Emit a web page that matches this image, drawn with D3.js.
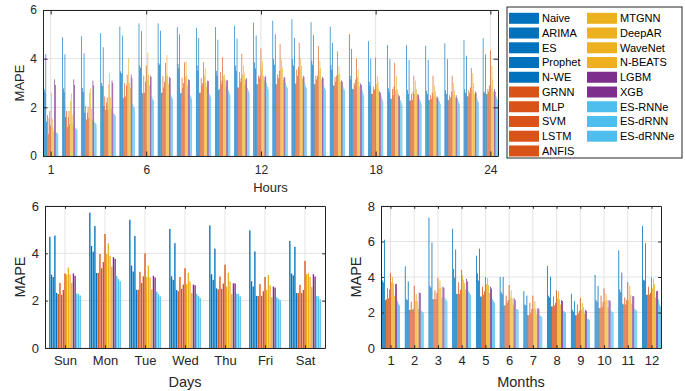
<!DOCTYPE html>
<html>
<head>
<meta charset="utf-8">
<script src="https://cdn.jsdelivr.net/npm/d3@7/dist/d3.min.js"></script>
<style>
  body { margin: 0; background: #fff; }
  svg { display: block; font-family: "Liberation Sans", Arial, sans-serif; }
</style>
</head>
<body>
<svg id="chart" width="685" height="391"></svg>
<script>
// series names in legend order
const seriesNames = ['Naive', 'ARIMA', 'ES', 'Prophet', 'N-WE',
  'GRNN', 'MLP', 'SVM', 'LSTM', 'ANFIS',
  'MTGNN', 'DeepAR', 'WaveNet', 'N-BEATS',
  'LGBM', 'XGB',
  'ES-RNNe', 'ES-dRNN', 'ES-dRNNe'];
const seriesGroup = [0, 0, 0, 0, 0, 1, 1, 1, 1, 1, 2, 2, 2, 2, 3, 3, 4, 4, 4];
const groupColors = ['#0072BD', '#D95319', '#EDB120', '#7E2F8E', '#4DBEEE'];

// hours 1..24, one row per hour, values in series order
const hourTicks = [1, 6, 12, 18, 24];
const hourRows = [
  [4.86, 2.74, 2.60, 4.19, 1.41, 1.68, 0.90, 1.55, 1.85, 1.25, 2.60, 1.55, 1.15, 1.00, 3.15, 2.92, 0.95, 0.98, 0.90],
  [4.88, 2.78, 2.62, 4.18, 1.60, 1.85, 1.20, 1.60, 1.85, 1.30, 2.25, 2.58, 1.70, 1.30, 3.15, 2.92, 1.15, 1.12, 1.08],
  [4.92, 2.80, 2.63, 4.22, 1.78, 2.05, 1.50, 1.78, 2.02, 1.55, 2.60, 2.78, 1.95, 1.50, 3.10, 2.90, 1.40, 1.35, 1.30],
  [5.05, 3.00, 2.88, 4.47, 2.05, 2.45, 1.90, 2.20, 2.40, 1.90, 2.95, 3.40, 2.40, 1.95, 3.10, 3.00, 1.75, 1.72, 1.65],
  [5.32, 3.48, 3.40, 4.95, 2.35, 2.42, 3.00, 2.45, 2.90, 3.35, 2.95, 4.02, 3.00, 2.80, 3.35, 3.20, 2.15, 2.05, 1.98],
  [5.45, 3.72, 3.62, 5.13, 2.58, 2.58, 3.30, 2.60, 3.05, 3.72, 3.15, 4.25, 3.35, 2.90, 3.30, 3.25, 2.45, 2.35, 2.28],
  [5.45, 3.82, 3.75, 5.15, 2.60, 2.60, 3.28, 2.82, 3.05, 3.82, 3.35, 4.15, 3.30, 2.95, 3.25, 3.20, 2.50, 2.42, 2.35],
  [5.30, 3.78, 3.60, 5.00, 2.58, 2.58, 3.22, 2.80, 3.00, 3.85, 3.25, 3.90, 3.30, 2.90, 3.15, 3.12, 2.50, 2.45, 2.35],
  [5.27, 3.72, 3.50, 4.85, 2.60, 2.60, 3.20, 2.90, 3.00, 3.85, 3.30, 3.60, 3.00, 2.85, 3.10, 3.08, 2.55, 2.48, 2.40],
  [5.30, 3.50, 3.30, 4.78, 2.72, 2.75, 3.45, 2.95, 3.10, 4.05, 3.30, 3.35, 3.15, 2.85, 3.10, 3.12, 2.70, 2.60, 2.50],
  [5.35, 3.72, 3.50, 4.82, 2.82, 2.82, 3.45, 3.05, 3.20, 4.20, 3.35, 3.72, 3.40, 2.95, 3.15, 3.20, 2.80, 2.70, 2.62],
  [5.48, 3.85, 3.60, 4.95, 2.95, 2.95, 3.30, 3.20, 3.30, 4.42, 3.60, 3.88, 3.30, 3.10, 3.25, 3.28, 3.00, 2.85, 2.75],
  [5.56, 3.98, 3.75, 5.00, 2.95, 2.95, 3.35, 3.20, 3.50, 4.60, 3.55, 3.95, 3.65, 3.15, 3.25, 3.22, 3.00, 2.88, 2.80],
  [5.62, 3.98, 3.72, 4.85, 2.95, 3.00, 3.55, 3.30, 3.65, 4.65, 3.55, 4.00, 3.70, 3.20, 3.30, 3.25, 3.00, 2.88, 2.80],
  [5.50, 3.92, 3.75, 4.97, 2.95, 2.95, 3.30, 3.15, 3.30, 4.52, 3.50, 3.90, 3.60, 3.15, 3.25, 3.20, 2.90, 2.80, 2.72],
  [5.32, 3.75, 3.55, 4.65, 2.90, 2.90, 3.25, 3.05, 3.30, 4.30, 3.35, 3.70, 3.35, 3.05, 3.10, 3.05, 2.85, 2.75, 2.70],
  [5.00, 3.30, 3.15, 4.40, 2.75, 2.75, 3.00, 2.90, 3.15, 4.00, 3.25, 3.55, 3.05, 2.85, 2.98, 2.92, 2.70, 2.60, 2.50],
  [4.72, 3.05, 2.88, 4.00, 2.55, 2.55, 2.85, 2.72, 2.75, 4.05, 2.95, 3.30, 3.05, 2.75, 2.65, 2.60, 2.45, 2.35, 2.25],
  [4.56, 2.78, 2.62, 3.98, 2.35, 2.35, 2.75, 2.50, 2.85, 3.83, 2.70, 3.30, 2.75, 2.60, 2.50, 2.45, 2.30, 2.20, 2.10],
  [4.56, 2.72, 2.55, 3.95, 2.28, 2.28, 2.55, 2.30, 2.65, 3.30, 2.55, 3.10, 2.75, 2.50, 2.55, 2.50, 2.35, 2.25, 2.15],
  [4.53, 2.68, 2.55, 3.95, 2.30, 2.30, 2.50, 2.35, 2.60, 3.30, 2.45, 2.90, 2.65, 2.40, 2.45, 2.40, 2.35, 2.25, 2.15],
  [4.63, 2.70, 2.55, 3.98, 2.30, 2.30, 2.50, 2.40, 2.65, 3.30, 2.50, 3.00, 2.70, 2.40, 2.50, 2.40, 2.35, 2.25, 2.15],
  [4.77, 2.75, 2.60, 4.12, 2.45, 2.45, 2.70, 2.60, 2.82, 3.62, 2.70, 3.40, 3.00, 2.55, 2.65, 2.60, 2.40, 2.30, 2.20],
  [4.84, 2.65, 2.60, 4.18, 2.55, 2.55, 2.75, 2.65, 2.90, 4.33, 2.80, 3.70, 3.15, 2.65, 2.75, 2.65, 2.45, 2.40, 2.30]
];

// days of week
const dayLabels = ['Sun', 'Mon', 'Tue', 'Wed', 'Thu', 'Fri', 'Sat'];
const dayRows = [
  [4.70, 3.10, 3.00, 4.75, 2.33, 2.28, 2.75, 2.25, 2.45, 3.15, 3.10, 3.40, 3.10, 2.75, 3.15, 3.05, 2.30, 2.28, 2.22],
  [5.72, 4.31, 4.07, 5.15, 3.17, 3.17, 3.97, 3.37, 3.63, 4.82, 3.97, 4.42, 3.90, 3.43, 3.84, 3.77, 3.04, 2.92, 2.82],
  [5.42, 3.48, 3.23, 4.73, 2.46, 2.46, 3.22, 2.75, 3.03, 4.00, 3.00, 3.48, 2.98, 2.48, 3.05, 2.98, 2.38, 2.28, 2.18],
  [5.03, 3.03, 2.88, 4.43, 2.45, 2.40, 3.00, 2.50, 2.68, 3.37, 2.70, 3.18, 2.80, 2.32, 2.68, 2.65, 2.28, 2.20, 2.12],
  [5.18, 3.12, 2.88, 4.20, 2.52, 2.48, 3.02, 2.50, 2.72, 3.52, 2.60, 3.18, 2.82, 2.28, 2.73, 2.73, 2.30, 2.28, 2.18],
  [4.97, 2.82, 2.60, 4.08, 2.20, 2.20, 2.70, 2.20, 2.40, 3.00, 2.45, 3.08, 2.65, 2.15, 2.60, 2.55, 2.15, 2.08, 2.02],
  [4.52, 3.15, 3.07, 4.28, 2.32, 2.32, 2.67, 2.32, 2.45, 3.68, 3.12, 3.15, 3.00, 2.58, 3.12, 3.02, 2.20, 2.18, 2.05]
];

// months 1..12
const monthLabels = ['1', '2', '3', '4', '5', '6', '7', '8', '9', '10', '11', '12'];
const monthRows = [
  [5.70, 3.80, 3.70, 6.10, 2.70, 2.75, 3.38, 2.80, 3.30, 4.22, 3.70, 4.00, 3.65, 2.95, 3.60, 3.62, 2.65, 2.50, 2.40],
  [4.60, 2.75, 2.70, 3.75, 2.15, 2.15, 2.60, 2.15, 2.20, 3.50, 2.65, 3.05, 2.65, 2.20, 3.12, 3.10, 2.10, 2.05, 2.00],
  [7.35, 3.50, 3.40, 5.95, 2.75, 2.75, 3.25, 2.75, 3.10, 3.95, 3.35, 3.80, 3.40, 2.85, 3.45, 3.40, 2.85, 2.75, 2.65],
  [6.72, 4.45, 3.95, 5.55, 3.05, 3.05, 3.70, 3.05, 3.30, 4.40, 4.10, 3.85, 3.65, 3.30, 3.90, 3.75, 3.20, 3.10, 3.00],
  [5.20, 4.20, 3.80, 5.60, 2.90, 2.90, 3.45, 3.00, 3.20, 4.00, 3.60, 3.95, 3.55, 3.10, 3.45, 3.35, 2.75, 2.65, 2.55],
  [4.00, 3.15, 3.05, 4.00, 2.40, 2.40, 2.95, 2.55, 2.70, 3.55, 2.85, 3.25, 2.80, 2.45, 2.80, 2.70, 2.20, 2.20, 2.15],
  [3.20, 2.45, 2.40, 2.95, 1.85, 1.85, 2.55, 1.95, 2.20, 2.95, 2.25, 2.65, 2.20, 1.90, 2.25, 2.20, 1.85, 1.80, 1.75],
  [4.62, 2.95, 2.85, 4.02, 2.35, 2.35, 2.90, 2.40, 2.55, 3.25, 2.80, 3.20, 2.75, 2.45, 2.70, 2.65, 2.10, 2.05, 2.00],
  [3.05, 2.15, 2.05, 2.65, 1.85, 1.85, 2.45, 1.95, 2.10, 2.82, 2.15, 2.55, 2.30, 1.95, 2.15, 2.10, 1.65, 1.62, 1.58],
  [4.12, 2.70, 2.60, 3.50, 2.25, 2.25, 2.95, 2.30, 2.60, 3.35, 2.65, 3.05, 2.70, 2.30, 2.70, 2.65, 2.10, 2.05, 2.00],
  [5.50, 3.30, 3.15, 4.25, 2.50, 2.45, 2.85, 2.45, 2.70, 3.72, 2.70, 3.50, 3.00, 2.50, 2.92, 2.92, 2.20, 2.15, 2.10],
  [6.88, 3.85, 3.80, 5.90, 3.00, 3.00, 3.45, 3.00, 3.10, 3.98, 3.35, 3.90, 3.60, 2.85, 3.20, 3.22, 2.75, 2.45, 2.35]
];

const svg = d3.select('#chart');
const axisColor = '#262626';
const gridColor = '#e3e3e3';

function drawPanel(cfg) {
  const { left, top, width, height, rows, xDomain, tickVals, tickText, yMax, yTicks, xLabel, tickFont, labelFont, ylabelX } = cfg;
  const g = svg.append('g').attr('transform', `translate(${left},${top})`);
  const x = d3.scaleLinear().domain(xDomain).range([0, width]);
  const y = d3.scaleLinear().domain([0, yMax]).range([height, 0]);
  const tickLen = Math.max(width, height) * 0.01;

  // grid
  g.append('g').selectAll('line.gx').data(tickVals).join('line')
    .attr('x1', d => x(d)).attr('x2', d => x(d)).attr('y1', 0).attr('y2', height)
    .attr('stroke', gridColor).attr('stroke-width', 1);
  g.append('g').selectAll('line.gy').data(yTicks).join('line')
    .attr('x1', 0).attr('x2', width).attr('y1', d => y(d)).attr('y2', d => y(d))
    .attr('stroke', gridColor).attr('stroke-width', 1);

  // bars
  const n = seriesNames.length;
  const slot = 0.8 / n;
  const barW = slot * 0.8;
  rows.forEach((row, ci) => {
    const c = ci + 1;
    g.append('g').selectAll('rect').data(row).join('rect')
      .attr('x', (v, i) => x(c - 0.4 + (i + 0.5) * slot - barW / 2))
      .attr('width', x(barW) - x(0))
      .attr('y', v => y(v))
      .attr('height', v => y(0) - y(v))
      .attr('fill', (v, i) => groupColors[seriesGroup[i]]);
  });

  // axes (MATLAB style: box, inward ticks)
  const ax = g.append('g').attr('transform', `translate(0,${height})`)
    .call(d3.axisBottom(x).tickValues(tickVals).tickFormat((d, i) => tickText[i])
      .tickSizeInner(-tickLen).tickSizeOuter(0).tickPadding(cfg.xPad));
  const axT = g.append('g')
    .call(d3.axisTop(x).tickValues(tickVals).tickFormat('').tickSizeInner(-tickLen).tickSizeOuter(0));
  const ay = g.append('g')
    .call(d3.axisLeft(y).tickValues(yTicks).tickFormat(d3.format('d'))
      .tickSizeInner(-tickLen).tickSizeOuter(0).tickPadding(6));
  const ayR = g.append('g').attr('transform', `translate(${width},0)`)
    .call(d3.axisRight(y).tickValues(yTicks).tickFormat('').tickSizeInner(-tickLen).tickSizeOuter(0));
  [ax, axT, ay, ayR].forEach(a => {
    a.select('.domain').attr('stroke', axisColor).attr('stroke-width', 1);
    a.selectAll('.tick line').attr('stroke', axisColor).attr('stroke-width', 1);
    a.selectAll('.tick text').attr('fill', axisColor)
      .style('font-size', tickFont + 'px').style('font-family', '"Liberation Sans", Arial, sans-serif');
  });

  g.append('text')
    .attr('x', width / 2).attr('y', height + cfg.xlabelDy)
    .attr('text-anchor', 'middle').attr('fill', axisColor)
    .style('font-size', labelFont + 'px')
    .text(xLabel);
  g.append('text')
    .attr('transform', `translate(${ylabelX},${height / 2}) rotate(-90)`)
    .attr('text-anchor', 'middle').attr('fill', axisColor)
    .style('font-size', labelFont + 'px')
    .text('MAPE');
}

drawPanel({
  left: 43, top: 10, width: 455, height: 146, rows: hourRows,
  xDomain: [0.6, 24.4], tickVals: hourTicks, tickText: hourTicks.map(String),
  yMax: 6, yTicks: [0, 2, 4, 6], xLabel: 'Hours', tickFont: 12, labelFont: 13,
  xlabelDy: 36, ylabelX: -19, xPad: 9
});
drawPanel({
  left: 45, top: 206, width: 280, height: 142, rows: dayRows,
  xDomain: [0.5, 7.5], tickVals: d3.range(1, 8), tickText: dayLabels,
  yMax: 6, yTicks: [0, 2, 4, 6], xLabel: 'Days', tickFont: 13, labelFont: 14.5,
  xlabelDy: 39, ylabelX: -20, xPad: 8
});
drawPanel({
  left: 381, top: 206, width: 280, height: 142, rows: monthRows,
  xDomain: [0.6, 12.4], tickVals: d3.range(1, 13), tickText: monthLabels,
  yMax: 8, yTicks: [0, 2, 4, 6, 8], xLabel: 'Months', tickFont: 13, labelFont: 14.5,
  xlabelDy: 39, ylabelX: -20, xPad: 8
});

// legend, two columns
const legend = svg.append('g').attr('transform', 'translate(507,7)');
legend.append('rect').attr('x', 0).attr('y', 0).attr('width', 175).attr('height', 151)
  .attr('fill', '#fff').attr('stroke', axisColor).attr('stroke-width', 1);
const rowH = 14.74;
const items = legend.selectAll('g.item').data(seriesNames).join('g')
  .attr('transform', (d, i) => {
    const col = i < 10 ? 0 : 1;
    const r = i < 10 ? i : i - 10;
    return `translate(${2 + col * 78},${11.3 + r * rowH})`;
  });
items.append('rect').attr('x', 0).attr('y', -5.5).attr('width', 30).attr('height', 11)
  .attr('fill', (d, i) => groupColors[seriesGroup[i]]);
items.append('text').attr('x', 33).attr('y', 0).attr('dy', '0.35em')
  .attr('fill', '#000').style('font-size', '11px').text(d => d);
</script>
</body>
</html>
